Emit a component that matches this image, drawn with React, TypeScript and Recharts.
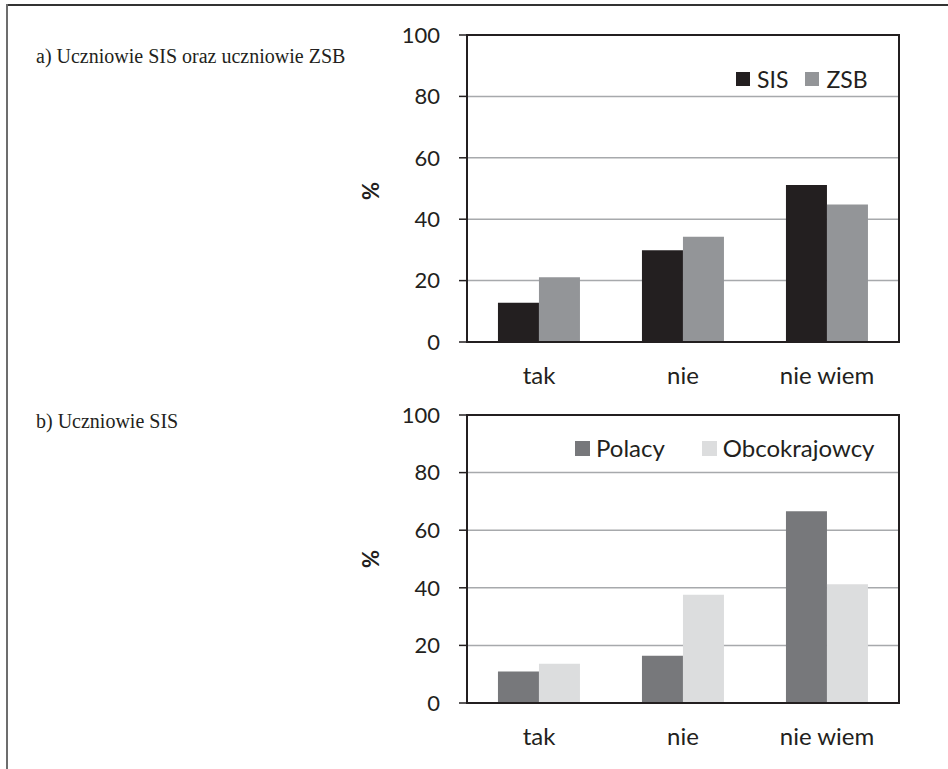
import React from "react";
import {
  BarChart,
  Bar,
  XAxis,
  YAxis,
  CartesianGrid,
  Legend,
  ReferenceArea,
} from "recharts";

// answers on the x axis
const categories = ["tak", "nie", "nie wiem"];

// a) SIS vs ZSB, %
const sisValues = [12.8, 29.9, 51.1];
const zsbValues = [21.1, 34.3, 44.8];

// b) SIS students: Poles vs foreigners, %
const polacyValues = [10.9, 16.4, 66.6];
const obcokrajowcyValues = [13.6, 37.6, 41.2];

const yTicks = [0, 20, 40, 60, 80, 100];

const dataA = categories.map((name, i) => ({
  name,
  SIS: sisValues[i],
  ZSB: zsbValues[i],
}));

const dataB = categories.map((name, i) => ({
  name,
  Polacy: polacyValues[i],
  Obcokrajowcy: obcokrajowcyValues[i],
}));

const INK = "#231f20";
const FONT = "Lato, 'Open Sans', sans-serif";

function makeLegend(
  keys: string[],
  square: number,
  innerGap: number,
  itemGap: number,
  fontSize: number
) {
  return function LegendContent({ payload }: any) {
    // keep series order, recharts sorts by name otherwise
    const items = [...(payload || [])].sort(
      (a: any, b: any) => keys.indexOf(a.value) - keys.indexOf(b.value)
    );
    return (
      <div style={{ display: "flex", alignItems: "center", height: 26 }}>
        {items.map((p: any, i: number) => (
          <div
            key={p.value}
            style={{
              display: "flex",
              alignItems: "center",
              marginLeft: i === 0 ? 0 : itemGap,
            }}
          >
            <span
              style={{
                width: square,
                height: square,
                background: p.color,
                display: "inline-block",
                marginRight: innerGap,
              }}
            />
            <span style={{ fontSize, color: INK, fontFamily: FONT, lineHeight: "26px" }}>
              {p.value}
            </span>
          </div>
        ))}
      </div>
    );
  };
}

const yTickStyle = { fontSize: 22, fill: INK, fontFamily: FONT };
const xTickStyle = { fontSize: 24, fill: INK, fontFamily: FONT };

function Panel({
  data,
  keys,
  colors,
  height,
  plotBottom,
  legendPos,
  legend,
}: {
  data: any[];
  keys: string[];
  colors: string[];
  height: number;
  plotBottom: number;
  legendPos: { top: number; left: number };
  legend: any;
}) {
  return (
    <BarChart
      width={948}
      height={height}
      data={data}
      margin={{ top: 35, right: 49, left: 0, bottom: height - plotBottom - 50 }}
      barCategoryGap="21.5%"
      barGap={0}
    >
      <CartesianGrid
        horizontal
        vertical={false}
        stroke="#a7a9ac"
        strokeWidth={1.5}
      />
      <XAxis
        dataKey="name"
        height={50}
        tickLine={false}
        tickSize={0}
        tickMargin={25}
        axisLine={{ stroke: INK, strokeWidth: 2 }}
        tick={xTickStyle}
      />
      <YAxis
        width={467}
        domain={[0, 100]}
        ticks={yTicks}
        interval={0}
        tickSize={8}
        tickMargin={19}
        tickLine={{ stroke: INK, strokeWidth: 1.5 }}
        axisLine={{ stroke: INK, strokeWidth: 2 }}
        tick={yTickStyle}
      />
      <Legend
        verticalAlign="middle"
        align="center"
        layout="horizontal"
        wrapperStyle={{ top: legendPos.top, left: legendPos.left, width: "auto" }}
        content={legend}
      />
      {keys.map((k, i) => (
        <Bar key={k} dataKey={k} fill={colors[i]} isAnimationActive={false} />
      ))}
      {/* plot frame */}
      <ReferenceArea
        x1={categories[0]}
        x2={categories[categories.length - 1]}
        y1={0}
        y2={100}
        fill="none"
        fillOpacity={0}
        stroke={INK}
        strokeWidth={2}
      />
    </BarChart>
  );
}

const percentStyle: React.CSSProperties = {
  position: "absolute",
  left: 371,
  fontFamily: FONT,
  fontWeight: 700,
  fontSize: 22,
  color: INK,
  lineHeight: "22px",
  transform: "translate(-50%, -50%) rotate(-90deg)",
};

const titleStyle: React.CSSProperties = {
  position: "absolute",
  left: 36,
  fontFamily: "'Liberation Serif', 'DejaVu Serif', serif",
  fontSize: 20,
  color: INK,
  lineHeight: "22px",
  whiteSpace: "nowrap",
};

export default function App() {
  return (
    <div
      style={{
        position: "absolute",
        left: 0,
        top: 0,
        width: 948,
        height: 769,
        background: "#fff",
        overflow: "hidden",
      }}
    >
      {/* page frame */}
      <div style={{ position: "absolute", left: 6, top: 4, width: 942, height: 2, background: "#333" }} />
      <div style={{ position: "absolute", left: 6, top: 4, width: 2, height: 765, background: "#6d6d6d" }} />

      <div style={{ ...titleStyle, top: 45 }}>a) Uczniowie SIS oraz uczniowie ZSB</div>
      <div style={{ ...titleStyle, top: 410 }}>b) Uczniowie SIS</div>

      <div style={{ position: "absolute", left: 0, top: 0 }}>
        <Panel
          data={dataA}
          keys={["SIS", "ZSB"]}
          colors={[INK, "#939598"]}
          height={400}
          plotBottom={342}
          legendPos={{ top: 66, left: 736 }}
          legend={makeLegend(["SIS", "ZSB"], 14, 7, 17, 23)}
        />
      </div>
      <div style={{ ...percentStyle, top: 191 }}>%</div>

      <div style={{ position: "absolute", left: 0, top: 380 }}>
        <Panel
          data={dataB}
          keys={["Polacy", "Obcokrajowcy"]}
          colors={["#77787b", "#dcddde"]}
          height={389}
          plotBottom={323}
          legendPos={{ top: 55, left: 575 }}
          legend={makeLegend(["Polacy", "Obcokrajowcy"], 15, 6, 37, 24)}
        />
      </div>
      <div style={{ ...percentStyle, top: 559 }}>%</div>
    </div>
  );
}
